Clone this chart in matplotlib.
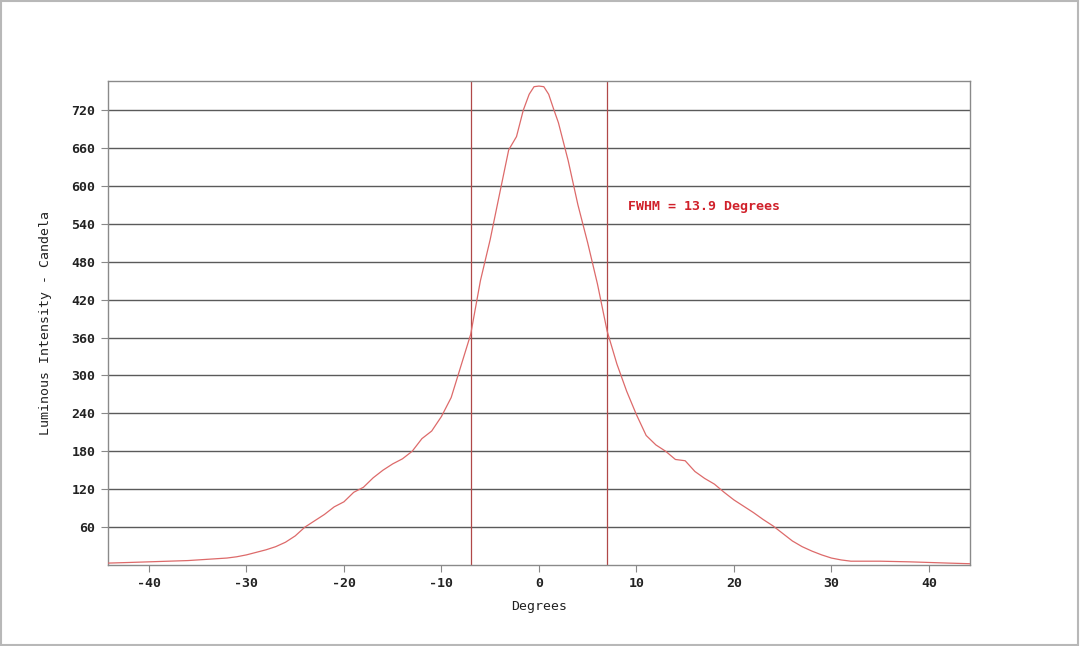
import matplotlib
matplotlib.use("Agg")
import matplotlib.pyplot as plt
from matplotlib.patches import Rectangle

# Data
angles = [-44.2, -42, -40, -38, -36, -34, -32, -31, -30, -29, -28, -27, -26, -25,
          -24, -23, -22, -21, -20, -19, -18, -17, -16, -15, -14, -13, -12, -11,
          -10, -9, -8, -7, -6, -5, -4, -3.1, -2.3, -1.6, -1, -0.5, 0, 0.5, 1, 1.5, 2, 3, 4, 5,
          6, 7, 8, 9, 10, 11, 12, 13, 14, 15, 16, 17, 18, 19, 20, 21, 22, 23,
          24, 25, 26, 27, 28, 29, 30, 31, 32, 35, 38, 40, 42, 44.2]
intensity = [3, 4, 5, 6, 7, 9, 11, 13, 16, 20, 24, 29, 36, 46,
             60, 70, 80, 92, 100, 115, 123, 138, 150, 160, 168, 180, 200, 212,
             235, 265, 315, 365, 450, 515, 590, 657, 678, 720, 745, 757, 758, 757, 745, 722, 700, 640, 570, 510,
             445, 370, 318, 275, 238, 205, 190, 180, 167, 165, 148, 137, 128, 115, 103, 93, 83, 72,
             62, 50, 38, 29, 22, 16, 11, 8, 6, 6, 5, 4, 3, 2]
fwhm_edges = [-6.95, 6.95]
annotation = "FWHM = 13.9 Degrees"
x_ticks = [-40, -30, -20, -10, 0, 10, 20, 30, 40]
y_ticks = [60, 120, 180, 240, 300, 360, 420, 480, 540, 600, 660, 720]

mono = "DejaVu Sans Mono"

fig = plt.figure(figsize=(10.8, 6.46), dpi=100)
fig.patch.set_facecolor("white")
fig.patches.append(Rectangle((0.001, 0.001), 0.997, 0.997, transform=fig.transFigure,
                             fill=False, edgecolor="#b8b8b8", linewidth=1.5))

ax = fig.add_axes([0.1, 0.1254, 0.798, 0.7492])
ax.set_xlim(-44.2, 44.2)
ax.set_ylim(0, 766)

for yv in y_ticks:
    ax.axhline(yv, color="#5a5a5a", linewidth=1.0, zorder=1)

for xv in fwhm_edges:
    ax.axvline(xv, color="#b04848", linewidth=0.9, zorder=2)

ax.plot(angles, intensity, color="#dd6a6a", linewidth=0.9, zorder=3)

ax.text(9.1, 568, annotation, color="#d0202a", fontsize=9.5, family=mono,
        va="center", ha="left", fontweight="bold")

ax.set_xticks(x_ticks)
ax.set_yticks(y_ticks)
ax.set_xticklabels([str(v) for v in x_ticks], family=mono, fontsize=9.5, fontweight="bold")
ax.set_yticklabels([str(v) for v in y_ticks], family=mono, fontsize=9.5, fontweight="bold")
ax.tick_params(axis="both", length=5, width=0.8, color="#888888", pad=4, labelcolor="#222222")

for s in ax.spines.values():
    s.set_color("#8a8a8a")
    s.set_linewidth(1.0)

ax.set_xlabel("Degrees", family=mono, fontsize=9.5, labelpad=7, color="#222222")
ax.set_ylabel("Luminous Intensity - Candela", family=mono, fontsize=9.5, labelpad=14, color="#222222")

fig.savefig("out.png", dpi=100, facecolor="white")
